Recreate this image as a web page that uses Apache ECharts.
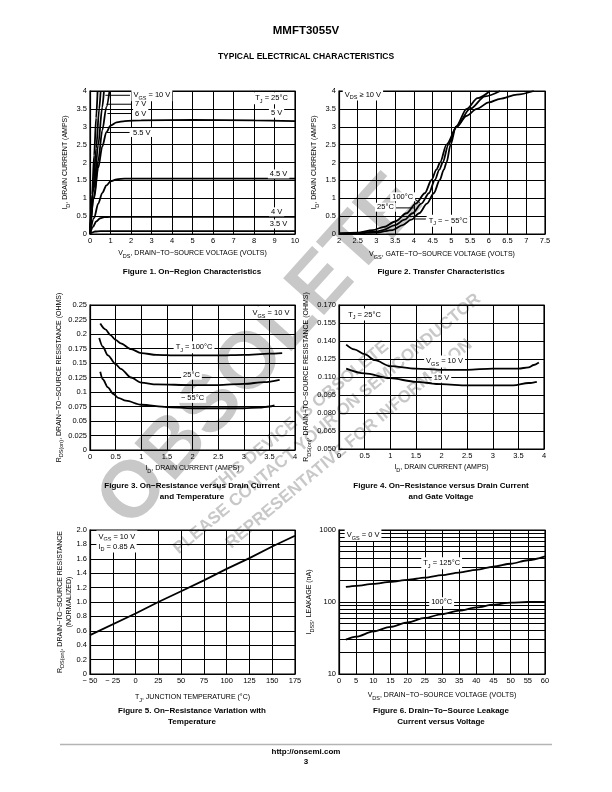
<!DOCTYPE html>
<html><head><meta charset="utf-8">
<script src="https://cdn.jsdelivr.net/npm/echarts@6/dist/echarts.min.js"></script>
<style>html,body{margin:0;padding:0;background:#fff}#c{width:612px;height:792px}</style>
</head><body><div id="c"></div>
<script>
// ---------- DATA ----------
// Figure 1: On-region characteristics, [VDS (V), ID (A)]
const f1_10V  = [[0,0],[0.1,1.1],[0.2,2.2],[0.3,3.25],[0.37,4.0]];
const f1_7V   = [[0,0],[0.15,1.2],[0.3,2.4],[0.45,3.5],[0.52,4.0]];
const f1_6V   = [[0,0],[0.2,1.3],[0.4,2.5],[0.6,3.55],[0.68,4.0]];
const f1_55V  = [[0,0],[0.2,1.05],[0.4,2.05],[0.6,2.9],[0.8,3.55],[0.95,4.0]];
const f1_5V   = [[0,0],[0.2,1.0],[0.4,1.85],[0.6,2.45],[0.8,2.85],[1.0,3.03],[1.3,3.12],[1.7,3.16],[2.5,3.18],[5,3.19],[8,3.18],[10,3.16]];
const f1_45V  = [[0,0],[0.2,0.45],[0.4,0.85],[0.6,1.15],[0.8,1.36],[1.0,1.47],[1.3,1.53],[1.7,1.55],[3,1.55],[10,1.55]];
const f1_4V   = [[0,0],[0.15,0.2],[0.3,0.35],[0.5,0.44],[0.7,0.47],[1.0,0.48],[10,0.48]];
const f1_35V  = [[0,0],[0.1,0.04],[0.25,0.07],[0.5,0.08],[1,0.08],[10,0.08]];
// Figure 2: Transfer characteristics, [VGS (V), ID (A)]
const f2_100C = [[2,0.02],[2.5,0.04],[2.9,0.11],[3.2,0.2],[3.5,0.35],[3.8,0.58],[4.05,0.85],[4.29,1.14],[4.47,1.51],[4.6,1.8],[4.7,2.0],[4.87,2.5],[5.15,3.0],[5.4,3.3],[5.68,3.5],[6.0,3.68],[6.3,3.78],[6.75,3.9],[7.2,4.0]];
const f2_25C  = [[2,0.01],[2.5,0.03],[3.0,0.07],[3.17,0.11],[3.5,0.25],[3.75,0.4],[3.96,0.58],[4.2,0.85],[4.4,1.14],[4.56,1.51],[4.68,1.8],[4.77,2.0],[4.92,2.5],[5.13,3.0],[5.5,3.5],[5.9,3.85],[6.3,4.0]];
const f2_m55C = [[2,0.01],[2.5,0.02],[3.0,0.04],[3.43,0.11],[3.7,0.25],[3.93,0.4],[4.14,0.58],[4.35,0.85],[4.53,1.14],[4.69,1.51],[4.8,1.8],[4.87,2.0],[4.98,2.5],[5.12,3.0],[5.41,3.5],[5.7,3.8],[6.03,4.0]];
// Figure 3: RDS(on) vs ID and temperature, [ID (A), R (ohm)]
const f3_100C = [[0.2,0.218],[0.3,0.208],[0.4,0.198],[0.5,0.19],[0.6,0.184],[0.8,0.174],[1,0.167],[1.3,0.164],[1.7,0.163],[2,0.163],[2.5,0.163],[3,0.164],[3.5,0.166],[3.75,0.167]];
const f3_25C  = [[0.18,0.193],[0.25,0.178],[0.35,0.163],[0.5,0.148],[0.6,0.14],[0.8,0.125],[1,0.116],[1.3,0.113],[2,0.112],[2.5,0.112],[3,0.114],[3.4,0.117],[3.7,0.121]];
const f3_m55C = [[0.2,0.135],[0.25,0.122],[0.35,0.108],[0.45,0.097],[0.55,0.09],[0.7,0.085],[1,0.078],[1.5,0.074],[2,0.072],[2.5,0.072],[3,0.072],[3.3,0.073],[3.5,0.075],[3.6,0.077]];
// Figure 4: RDS(on) vs ID and gate voltage, [ID (A), R (ohm)]
const f4_10V  = [[0.14,0.137],[0.3,0.133],[0.5,0.129],[0.7,0.124],[1,0.119],[1.5,0.117],[2,0.116],[2.5,0.116],[3,0.117],[3.5,0.117],[3.7,0.118],[3.8,0.120],[3.9,0.122]];
const f4_15V  = [[0.14,0.117],[0.5,0.113],[1,0.109],[1.5,0.106],[2,0.104],[2.5,0.103],[3,0.103],[3.4,0.103],[3.7,0.105],[3.86,0.106]];
// Figure 5: normalized RDS(on) vs TJ, [TJ (°C), R norm]
const f5_line = [[-50,0.54],[0,0.84],[25,1.0],[50,1.15],[75,1.3],[100,1.46],[125,1.61],[150,1.77],[175,1.92]];
// Figure 6: IDSS leakage vs VDS, [VDS (V), I (nA)]
const f6_125C = [[2,162],[5,168],[10,178],[15,190],[20,203],[25,218],[30,236],[35,256],[40,280],[45,310],[50,340],[55,380],[60,430]];
const f6_100C = [[2,30],[5,33],[10,39],[15,45],[20,52],[25,60],[30,68],[35,76],[40,84],[45,92],[50,98],[55,100],[60,100]];
const f6_minorGrid = [20,30,40,50,60,70,80,90,200,300,400,500,600,700,800,900];

// ---------- STYLE ----------
const NARROW = "'Liberation Sans Narrow','Arial Narrow','Liberation Sans',Arial,sans-serif";
const SANS = "'Liberation Sans',Arial,Helvetica,sans-serif";

function rich(str){
  return str.split('\n').map(line => line.split(/(\[[^\]]*\])/).filter(Boolean)
    .map(p => p[0]==='[' ? '{s|'+p.slice(1,-1)+'}' : '{n|'+p+'}').join('')).join('\n');
}
const axisRich = {
  n:{fontSize:7, fontFamily:NARROW, color:'#000', lineHeight:8, verticalAlign:'middle'},
  s:{fontSize:5.5, fontFamily:NARROW, color:'#000', lineHeight:11, verticalAlign:'bottom'}
};
const noteRich = {
  n:{fontSize:7.5, fontFamily:NARROW, fill:'#000', lineHeight:9, verticalAlign:'middle'},
  s:{fontSize:5.5, fontFamily:NARROW, fill:'#000', lineHeight:12, verticalAlign:'bottom'}
};

const gridBoxes = [
  {left:90, top:91, width:205, height:143},
  {left:339, top:91, width:206, height:143},
  {left:90, top:305, width:205, height:145},
  {left:339, top:305, width:205, height:144},
  {left:90, top:530, width:205, height:144},
  {left:339, top:530, width:206, height:144}
];

function axis(gi, type, min, max, interval, name, gap, fmt, extra){
  const isY = type==='y';
  const a = {
    gridIndex:gi, type:'value', min, max,
    name: rich(name), nameLocation:'middle', nameGap:gap, nameRotate: isY?90:0,
    nameTextStyle:{rich:axisRich, align:'center'},
    axisLine:{show:true, onZero:false, lineStyle:{color:'#000', width:1.2}},
    axisTick:{show:false},
    splitLine:{show:true, lineStyle:{color:'#000', width:1}},
    axisLabel:{show:true, fontSize:7.5, fontFamily:NARROW, color:'#000', margin:3, formatter:fmt},
    silent:true
  };
  if (interval != null) a.interval = interval;
  return Object.assign(a, extra||{});
}
function ln(gi, data, extra){
  return Object.assign({type:'line', xAxisIndex:gi, yAxisIndex:gi, data, symbol:'none',
    smooth:0.3, smoothMonotone:'x', lineStyle:{color:'#000', width:1.8}, silent:true, clip:true, z:3}, extra||{});
}

const xAxes = [
  axis(0,'x',0,10,1,'V[DS], DRAIN−TO−SOURCE VOLTAGE (VOLTS)',14),
  axis(1,'x',2,7.5,0.5,'V[GS], GATE−TO−SOURCE VOLTAGE (VOLTS)',15),
  axis(2,'x',0,4,0.5,'I[D], DRAIN CURRENT (AMPS)',13),
  axis(3,'x',0,4,0.5,'I[D], DRAIN CURRENT (AMPS)',13),
  axis(4,'x',-50,175,25,'T[J], JUNCTION TEMPERATURE (°C)',18, v => v<0 ? '− '+Math.abs(v) : String(v)),
  axis(5,'x',0,60,5,'V[DS], DRAIN−TO−SOURCE VOLTAGE (VOLTS)',16)
];
const yAxes = [
  axis(0,'y',0,4,0.5,'I[D], DRAIN CURRENT (AMPS)',19),
  axis(1,'y',0,4,0.5,'I[D], DRAIN CURRENT (AMPS)',19),
  axis(2,'y',0,0.25,0.025,'R[DS(on)], DRAIN−TO−SOURCE RESISTANCE (OHMS)',16),
  axis(3,'y',0.05,0.17,0.015,'R[DS(on)], DRAIN−TO−SOURCE RESISTANCE (OHMS)',27, v => v.toFixed(3)),
  axis(4,'y',0,2,0.2,'R[DS(on)], DRAIN−TO−SOURCE RESISTANCE\n(NORMALIZED)',4, v => v===0 ? '0' : v.toFixed(1)),
  axis(5,'y',10,1000,null,'I[DSS], LEAKAGE (nA)',24, v => String(Math.round(v)), {type:'log', logBase:10})
];

const series = [
  ln(0,f1_10V), ln(0,f1_7V), ln(0,f1_6V), ln(0,f1_55V), ln(0,f1_5V), ln(0,f1_45V), ln(0,f1_4V), ln(0,f1_35V),
  ln(1,f2_100C), ln(1,f2_25C), ln(1,f2_m55C),
  ln(2,f3_100C), ln(2,f3_25C), ln(2,f3_m55C),
  ln(3,f4_10V), ln(3,f4_15V),
  ln(4,f5_line,{smooth:false}),
  ln(5,f6_125C,{markLine:{silent:true, symbol:['none','none'], label:{show:false},
      lineStyle:{color:'#000', width:1, type:'solid'}, data:f6_minorGrid.map(v=>({yAxis:v}))}}),
  ln(5,f6_100C)
];

const chart = echarts.init(document.getElementById('c'), null, {renderer:'canvas', width:612, height:792});
chart.setOption({
  backgroundColor:'#fff', animation:false,
  grid: gridBoxes.map(g => Object.assign({show:true, borderColor:'#000', borderWidth:1.2, containLabel:false, outerBoundsMode:'none'}, g)),
  xAxis: xAxes, yAxis: yAxes, series
});

// ---------- ANNOTATIONS (placed in data coordinates) ----------
const notes = [
  [0, 2.02, 3.88, 'V[GS] = 10 V', 'left'],
  [0, 2.1, 3.63, '7 V', 'left'],
  [0, 2.1, 3.37, '6 V', 'left'],
  [0, 2.0, 2.84, '5.5 V', 'left'],
  [0, 9.75, 3.8, 'T[J] = 25°C', 'right'],
  [0, 9.1, 3.38, '5 V', 'center'],
  [0, 9.2, 1.68, '4.5 V', 'center'],
  [0, 9.1, 0.62, '4 V', 'center'],
  [0, 9.2, 0.28, '3.5 V', 'center'],
  [1, 2.1, 3.9, 'V[DS] ≥ 10 V', 'left'],
  [1, 3.7, 1.04, '100°C', 'center'],
  [1, 3.24, 0.75, '25°C', 'center'],
  [1, 4.34, 0.37, 'T[J] = − 55°C', 'left'],
  [2, 3.93, 0.236, 'V[GS] = 10 V', 'right'],
  [2, 2.03, 0.177, 'T[J] = 100°C', 'center'],
  [2, 1.98, 0.129, '25°C', 'center'],
  [2, 2.0, 0.089, '− 55°C', 'center'],
  [3, 0.14, 0.162, 'T[J] = 25°C', 'left'],
  [3, 2.06, 0.123, 'V[GS] = 10 V', 'center'],
  [3, 2.0, 0.109, '15 V', 'center'],
  [4, -43, 1.91, 'V[GS] = 10 V', 'left'],
  [4, -43, 1.77, 'I[D] = 0.85 A', 'left'],
  [5, 1.65, 851, 'V[GS] = 0 V', 'left'],
  [5, 29.9, 344, 'T[J] = 125°C', 'center'],
  [5, 29.9, 101, '100°C', 'center']
];
const leaders = [
  [0, [1.95,3.88], [0.75,3.88]],
  [0, [2.03,3.63], [0.8,3.63]],
  [0, [2.03,3.37], [0.85,3.37]],
  [0, [1.93,2.84], [0.83,2.84]],
  [1, [3.98,1.0], [4.16,0.88]],
  [1, [3.45,0.73], [4.03,0.73]],
  [1, [4.32,0.42], [4.0,0.42]]
];

function txt(x, y, text, font, extra){
  return Object.assign({type:'text', x, y, z:20, silent:true,
    style:{text, font, fill:'#000', align:'center', verticalAlign:'middle'}}, extra||{});
}
const CAP = 'bold 8px ' + SANS;
const WM = '#c8c8c8';
function wm(x, y, deg, text, size){
  return {type:'text', x, y, rotation:deg*Math.PI/180, z:-10, silent:true,
    style:{text, font:'bold '+size+'px ' + SANS, fill:WM, align:'center', verticalAlign:'middle'}};
}
const gfx = [
  txt(306, 31, 'MMFT3055V', 'bold 11.5px ' + SANS),
  txt(306, 57, 'TYPICAL ELECTRICAL CHARACTERISTICS', 'bold 8.5px ' + SANS),
  txt(192, 272, 'Figure 1. On−Region Characteristics', CAP),
  txt(441, 272, 'Figure 2. Transfer Characteristics', CAP),
  txt(192, 486, 'Figure 3. On−Resistance versus Drain Current', CAP),
  txt(192, 497, 'and Temperature', CAP),
  txt(441, 486, 'Figure 4. On−Resistance versus Drain Current', CAP),
  txt(441, 497, 'and Gate Voltage', CAP),
  txt(192, 711, 'Figure 5. On−Resistance Variation with', CAP),
  txt(192, 722, 'Temperature', CAP),
  txt(441, 711, 'Figure 6. Drain−To−Source Leakage', CAP),
  txt(441, 722, 'Current versus Voltage', CAP),
  {type:'line', z:20, silent:true, shape:{x1:60, y1:744.5, x2:552, y2:744.5}, style:{stroke:'#b4b4b4', lineWidth:1.5}},
  txt(306, 752, 'http://onsemi.com', CAP),
  txt(306, 762, '3', CAP),
  // watermark (under everything)
  wm(261, 352, 48, 'OBSOLETE', 80),
  wm(300, 417, 40, 'THIS DEVICE IS OBSOLETE', 17),
  wm(327, 424, 40, 'PLEASE CONTACT YOUR ON SEMICONDUCTOR', 17),
  wm(349, 444, 40, 'REPRESENTATIVE FOR INFORMATION', 17)
];
notes.forEach(([g, x, y, t, align]) => {
  const p = chart.convertToPixel({gridIndex:g}, [x, y]);
  gfx.push({type:'text', x:p[0], y:p[1], z:15, silent:true,
    style:{text:rich(t), rich:noteRich, align, verticalAlign:'middle', backgroundColor:'#fff', padding:[0,2,0,2]}});
});
leaders.forEach(([g, a, b]) => {
  const p = chart.convertToPixel({gridIndex:g}, a);
  const q = chart.convertToPixel({gridIndex:g}, b);
  gfx.push({type:'line', z:14, silent:true, shape:{x1:p[0], y1:p[1], x2:q[0], y2:q[1]}, style:{stroke:'#000', lineWidth:1}});
});
chart.setOption({graphic: gfx});
</script>
</body></html>
